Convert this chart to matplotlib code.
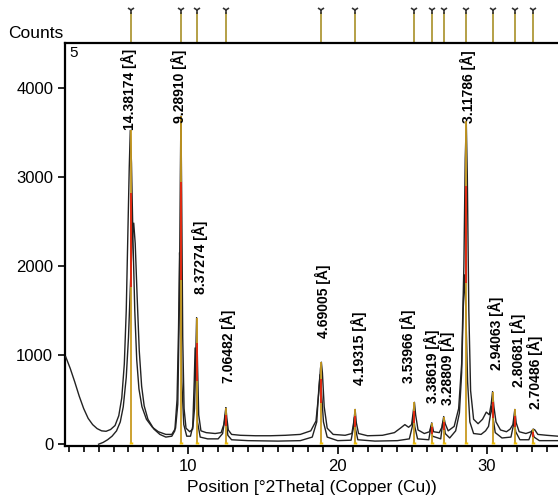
import matplotlib
matplotlib.use("Agg")
import matplotlib.pyplot as plt
import matplotlib.transforms as mtransforms

plt.rcParams['font.family'] = ['Liberation Sans', 'DejaVu Sans']

# peak list (d-spacing labels, 2theta positions, stick heights)
peak_labels = ['14.38174', '9.28910', '8.37274', '7.06482', '4.69005', '4.19315',
               '3.53966', '3.38619', '3.28809', '3.11786', '2.94063', '2.80681', '2.70486']
peak_pos = [6.14, 9.51, 10.56, 12.52, 18.91, 21.17, 25.14, 26.30, 27.10, 28.61, 30.37, 31.86, 33.09]
peak_height = [3520, 3680, 1420, 410, 920, 390, 470, 240, 310, 3620, 590, 390, 170]
label_x = [6.02, 9.38, 10.8, 12.68, 19.03, 21.44, 24.72, 26.3, 27.32, 28.75, 30.6, 32.07, 33.2]
label_bottom = [3520, 3600, 1690, 685, 1190, 660, 685, 460, 440, 3600, 830, 640, 400]

# scan 1 (with low-angle background)
scan1_x = [1.8, 2.1, 2.4, 2.7, 3.0, 3.3, 3.6, 3.9, 4.2, 4.5, 4.8, 5.1, 5.35, 5.55, 5.72,
           5.85, 5.95, 6.05, 6.12, 6.2, 6.3, 6.42, 6.55, 6.7, 6.9, 7.2, 7.6, 8.0, 8.5, 8.9,
           9.15, 9.3, 9.4, 9.47, 9.51, 9.56, 9.63, 9.72, 9.85, 10.1, 10.3, 10.42, 10.5, 10.56,
           10.62, 10.7, 10.85, 11.2, 11.8, 12.2, 12.38, 12.47, 12.52, 12.58, 12.68, 12.9,
           13.5, 14.5, 15.5, 16.5, 17.5, 18.2, 18.55, 18.75, 18.85, 18.91, 18.98, 19.1, 19.3,
           19.7, 20.5, 20.95, 21.08, 21.17, 21.25, 21.4, 22.0, 23.0, 23.8, 24.2, 24.5, 24.75,
           24.95, 25.07, 25.14, 25.22, 25.38, 25.8, 26.15, 26.3, 26.42, 26.8, 26.98, 27.1,
           27.2, 27.4, 27.8, 28.1, 28.3, 28.45, 28.54, 28.61, 28.68, 28.78, 28.9, 29.1, 29.4,
           29.7, 29.95, 30.15, 30.28, 30.37, 30.46, 30.6, 30.9, 31.3, 31.55, 31.73, 31.86,
           31.95, 32.15, 32.6, 32.95, 33.09, 33.2, 33.4, 34.0, 34.75]
scan1_y = [980, 850, 700, 540, 400, 290, 220, 175, 150, 145, 165, 210, 320, 520, 900,
           1500, 2300, 3100, 3520, 3150, 2300, 1500, 950, 620, 420, 280, 190, 140, 110, 110,
           180, 450, 1500, 3000, 3680, 2800, 1200, 400, 180, 140, 170, 400, 1000, 1420,
           900, 330, 150, 130, 120, 130, 220, 350, 410, 300, 160, 110,
           100, 95, 95, 100, 110, 150, 260, 600, 850, 920, 800, 420, 180,
           110, 100, 120, 250, 390, 240, 120, 95, 100, 130, 180, 220, 190,
           220, 380, 470, 330, 160, 120, 140, 240, 140, 130, 190, 310,
           230, 150, 200, 400, 900, 2000, 3200, 3620, 3000, 1500, 600, 280, 230,
           280, 360, 330, 450, 590, 420, 250, 160, 140, 170, 220, 390,
           240, 140, 120, 140, 170, 160, 110, 100, 90]

# scan 2 (lower background)
scan2_x = [4.0, 4.3, 4.6, 4.9, 5.2, 5.45, 5.65, 5.85, 6.0, 6.12, 6.25, 6.35, 6.45, 6.58,
           6.72, 6.88, 7.05, 7.3, 7.7, 8.1, 8.5, 8.9, 9.1, 9.25, 9.35, 9.42, 9.48, 9.57, 9.7,
           9.9, 10.15, 10.3, 10.4, 10.46, 10.52, 10.62, 10.8, 11.3, 12.0, 12.3, 12.42, 12.48,
           12.55, 12.65, 12.9, 14.0, 16.0, 17.5, 18.3, 18.6, 18.75, 18.82, 18.9, 19.05, 19.3,
           20.0, 20.9, 21.05, 21.12, 21.2, 21.35, 22.5, 24.0, 24.8, 25.0, 25.08, 25.16, 25.35,
           26.1, 26.25, 26.35, 26.9, 27.03, 27.1, 27.2, 27.5, 27.9, 28.15, 28.3, 28.42, 28.5,
           28.58, 28.7, 28.85, 29.1, 29.6, 29.9, 30.1, 30.25, 30.32, 30.4, 30.55, 31.0, 31.6,
           31.75, 31.82, 31.92, 32.2, 32.8, 32.98, 33.05, 33.15, 33.5, 34.75]
scan2_y = [0, 20, 50, 90, 150, 250, 420, 750, 1200, 1750, 2300, 2480, 2250, 1650,
           1050, 650, 430, 280, 170, 110, 80, 90, 150, 500, 1300, 2150, 1800, 700, 220,
           90, 90, 200, 700, 1080, 800, 250, 80, 60, 60, 120, 250, 330,
           250, 100, 50, 40, 35, 40, 80, 250, 650, 780, 640, 250, 80,
           40, 45, 180, 300, 170, 50, 35, 40, 60, 200, 330, 200, 60,
           50, 200, 90, 60, 240, 270, 120, 70, 150, 350, 800, 1600, 1900,
           1500, 700, 250, 120, 110, 150, 200, 350, 430, 300, 130, 70, 80,
           200, 270, 140, 50, 50, 130, 150, 80, 40, 40]

W, H = 558, 501
fig = plt.figure(figsize=(W / 100, H / 100), dpi=100)
ax = fig.add_axes([65 / W, (H - 446) / H, 1 - 65 / W, (446 - 43) / H])

ax.plot(scan1_x, scan1_y, color='#222222', lw=1.0, zorder=3)
ax.plot(scan2_x, scan2_y, color='#222222', lw=1.0, zorder=3)

# peak sticks
ax.vlines(peak_pos, 0, peak_height, color='#c89a20', lw=1.3, zorder=4)
ax.vlines(peak_pos, [h * 0.5 for h in peak_height], [h * 0.8 for h in peak_height],
          color='#e02010', lw=1.3, zorder=5)
ax.vlines(peak_pos, 0, 30, color='#f0c000', lw=2.5, zorder=5)

for lx, lb, lab in zip(label_x, label_bottom, peak_labels):
    ax.text(lx, lb, lab + ' [Å]', rotation=90, ha='center', va='bottom',
            fontsize=10, fontweight='bold', color='black', zorder=6, clip_on=True)

# reference pattern markers above the plot
trans = mtransforms.blended_transform_factory(ax.transData, ax.transAxes)
ax.vlines(peak_pos, 1.0, 1.077, color='#a89028', lw=1.2, transform=trans, clip_on=False)
ax.plot(peak_pos, [1.082] * len(peak_pos), ls='none', marker='1', ms=6, mew=1.2,
        color='#333333', transform=trans, clip_on=False)

ax.set_xlim(1.75, 34.75)
ax.set_ylim(-20, 4500)
ax.set_xticks([10, 20, 30])
ax.set_xticks(range(2, 35), minor=True)
ax.set_yticks([0, 1000, 2000, 3000, 4000])
ax.tick_params(axis='both', direction='out', labelsize=12, width=1.2, color='black')
ax.tick_params(axis='x', which='major', length=6)
ax.tick_params(axis='x', which='minor', length=4, width=1.2)
ax.tick_params(axis='y', length=5)
for s in ['left', 'top', 'bottom']:
    ax.spines[s].set_linewidth(1.6)
ax.spines['right'].set_visible(False)

ax.set_xlabel('Position [°2Theta] (Copper (Cu))', fontsize=12.5, labelpad=4)
fig.text(8 / W, 1 - 33 / H, 'Counts', fontsize=12.5, va='center', ha='left')
fig.text(69 / W, 1 - 53 / H, '5', fontsize=11, va='center', ha='left')

fig.savefig('out.png', dpi=100)
